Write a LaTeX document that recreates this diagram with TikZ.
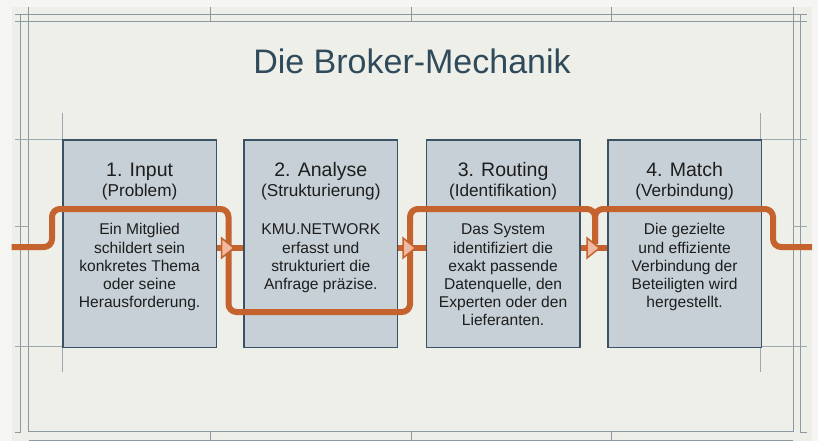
\documentclass[tikz,border=0pt]{standalone}
\usepackage{fontspec}
\setmainfont{Liberation Sans}
\definecolor{bgout}{HTML}{F5F5F4}
\definecolor{slide}{HTML}{EFEFEA}
\definecolor{frameline}{HTML}{8A99A2}
\definecolor{thinline}{HTML}{9CA8AF}
\definecolor{boxfill}{HTML}{C6D0D6}
\definecolor{boxedge}{HTML}{3A5264}
\definecolor{boxshadow}{HTML}{7F8E98}
\definecolor{flow}{HTML}{C5632F}
\definecolor{tipfill}{HTML}{F0B9A0}
\definecolor{titlecol}{HTML}{2F4B5B}
\definecolor{txt}{HTML}{1E1E1E}
\begin{document}
\begin{tikzpicture}[x=1pt,y=-1pt,
  stepbox/.style={draw=boxedge,line width=1.7pt,fill=boxfill,minimum width=153.5pt,minimum height=207.5pt,inner sep=0pt,anchor=north west},
  shadowbox/.style={fill=boxshadow,minimum width=153.5pt,minimum height=207.5pt,inner sep=0pt,anchor=north west},
  frm/.style={draw=frameline,line width=0.8pt},
  thin/.style={draw=thinline,line width=0.6pt},
  flowline/.style={draw=flow,line width=6pt,rounded corners=8pt},
  bar/.style={draw=flow,line width=6pt},
  tipshape/.style={draw=flow,line width=1.5pt,fill=tipfill,line join=miter},
  head/.style={anchor=base,text=txt,font=\fontsize{19.5}{22}\selectfont,inner sep=0pt},
  sub/.style={anchor=base,text=txt,font=\fontsize{17.2}{20}\selectfont,inner sep=0pt},
  body/.style={anchor=north,text=txt,align=center,font=\fontsize{15.6}{18.2}\selectfont,inner sep=0pt},
  titlestyle/.style={anchor=base,text=titlecol,font=\fontsize{34}{40}\selectfont,inner sep=0pt}]
\useasboundingbox (0,0) rectangle (818,441);
\fill[bgout] (0,0) rectangle (818,441);
\fill[slide] (11.5,7) rectangle (812,441);
% frame
\draw[frm] (15,14) -- (807,14);
\draw[frm] (20.7,14) -- (20.7,432);
\draw[frm] (800,14) -- (800,432);
\draw[frm] (15,432) -- (20.7,432);
\draw[frm] (800,432) -- (807,432);
\draw[frm] (28.7,21.7) rectangle (793.3,431.7);
\draw[frm] (15,21.7) -- (28.7,21.7);
\draw[frm] (793.3,21.7) -- (807,21.7);
\draw[frm] (28.7,440) -- (793.3,440);
\foreach \xx in {28.7,210,411,611,793.3} {\draw[frm] (\xx,7) -- (\xx,21.7);}
\foreach \xx in {210,411,611} {\draw[frm] (\xx,431.7) -- (\xx,440);}
% crosshairs
\draw[thin] (15,139.3) -- (62,139.3);
\draw[thin] (760,139.3) -- (807,139.3);
\draw[thin] (15,346.7) -- (62,346.7);
\draw[thin] (760,346.7) -- (807,346.7);
\draw[thin] (15,226.7) -- (28.7,226.7);
\draw[thin] (793.3,226.7) -- (807,226.7);
\draw[thin] (62,112.7) -- (62,371.7);
\draw[thin] (760.5,112.7) -- (760.5,371.7);
% title
\node[titlestyle] (title) at (412,74) {Die Broker-Mechanik};
% box shadows
\node[shadowbox] (sh1) at (63.2,140.4) {};
\node[shadowbox] (sh2) at (244.4,140.4) {};
\node[shadowbox] (sh3) at (426.7,140.4) {};
\node[shadowbox] (sh4) at (608.2,140.4) {};
% boxes
\node[stepbox] (b1) at (62,139) {};
\node[stepbox] (b2) at (243.2,139) {};
\node[stepbox] (b3) at (425.5,139) {};
\node[stepbox] (b4) at (607,139) {};
% serpentine flow
\coordinate (m) at (0,248);
\coordinate (p0) at (11.5,247);
\coordinate (p1) at (52,247);
\coordinate (p2) at (52,209);
\coordinate (p3) at (228.5,209);
\coordinate (p4) at (228.5,312);
\coordinate (p5) at (410,312);
\coordinate (p6) at (410,209);
\coordinate (p7) at (595,209);
\coordinate (p8) at (595,244);
\coordinate (q1) at (773,209);
\coordinate (q2) at (773,247);
\coordinate (q3) at (812,247);
\draw[flowline] (p0) -- (p1) -- (p2) -- (p3) -- (p4) -- (p5) -- (p6) -- (p7) -- (p8);
\draw[flowline] (p8) -- (p7) -- (q1) -- (q2) -- (q3);
% gap arrows
\draw[bar] (b1.east |- m) -- (b2.west |- m);
\draw[bar] (b2.east |- m) -- (b3.west |- m);
\draw[bar] (b3.east |- m) -- (b4.west |- m);
\filldraw[tipshape] (221.5,238) -- (234,248) -- (221.5,258) -- cycle;
\filldraw[tipshape] (403,238) -- (415.5,248) -- (403,258) -- cycle;
\filldraw[tipshape] (587,238) -- (599.5,248) -- (587,258) -- cycle;
% texts
\node[head] (h1) at (b1.north |- 0,176) {1. Input};
\node[sub] (s1) at (b1.north |- 0,196.5) {(Problem)};
\node[body] (t1) at (b1.north |- 0,222) {\strut Ein Mitglied\\schildert sein\\konkretes Thema\\oder seine\\Herausforderung.};
\node[head] (h2) at (b2.north |- 0,176) {2. Analyse};
\node[sub] (s2) at (b2.north |- 0,196.5) {(Strukturierung)};
\node[body] (t2) at (b2.north |- 0,222) {\strut KMU.NETWORK\\erfasst und\\strukturiert die\\Anfrage präzise.};
\node[head] (h3) at (b3.north |- 0,176) {3. Routing};
\node[sub] (s3) at (b3.north |- 0,196.5) {(Identifikation)};
\node[body] (t3) at (b3.north |- 0,222) {\strut Das System\\identifiziert die\\exakt passende\\Datenquelle, den\\Experten oder den\\Lieferanten.};
\node[head] (h4) at (b4.north |- 0,176) {4. Match};
\node[sub] (s4) at (b4.north |- 0,196.5) {(Verbindung)};
\node[body] (t4) at (b4.north |- 0,222) {\strut Die gezielte\\und effiziente\\Verbindung der\\Beteiligten wird\\hergestellt.};
\end{tikzpicture}
\end{document}
